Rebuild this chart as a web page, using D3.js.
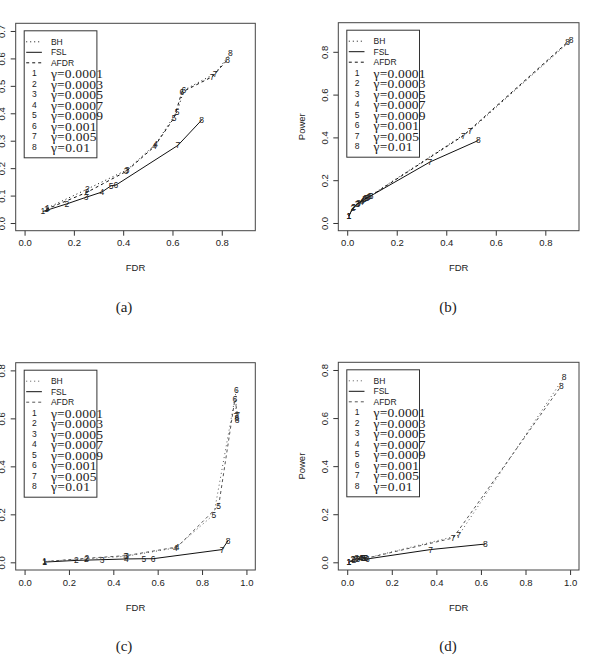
<!DOCTYPE html>
<html>
<head>
<meta charset="utf-8">
<script src="https://cdn.jsdelivr.net/npm/d3@7"></script>
<style>
  body { margin: 0; background: #fff; }
  text { fill: #222; }
</style>
</head>
<body>
<div id="draw-area"></div>
<script>
// 共用資料
const pointLabels = ['1', '2', '3', '4', '5', '6', '7', '8'];
const gammaLabels = ['0.0001', '0.0003', '0.0005', '0.0007', '0.0009', '0.001', '0.005', '0.01'];
const methodNames = ['BH', 'FSL', 'AFDR'];

// (a)
const fdrA_BH = [0.093, 0.255, 0.416, 0.532, 0.619, 0.646, 0.773, 0.835];
const powA_BH = [0.055, 0.124, 0.194, 0.288, 0.406, 0.484, 0.545, 0.618];
const fdrA_FSL = [0.074, 0.172, 0.250, 0.314, 0.351, 0.370, 0.622, 0.718];
const powA_FSL = [0.042, 0.070, 0.094, 0.113, 0.136, 0.138, 0.283, 0.375];
const fdrA_AFDR = [0.088, 0.253, 0.412, 0.527, 0.607, 0.638, 0.761, 0.824];
const powA_AFDR = [0.050, 0.112, 0.188, 0.279, 0.384, 0.477, 0.533, 0.596];

// (b)
const fdrB_BH = [0.007, 0.025, 0.043, 0.060, 0.075, 0.090, 0.496, 0.904];
const powB_BH = [0.034, 0.073, 0.090, 0.105, 0.115, 0.125, 0.432, 0.854];
const fdrB_FSL = [0.007, 0.023, 0.040, 0.057, 0.070, 0.085, 0.334, 0.530];
const powB_FSL = [0.034, 0.070, 0.088, 0.100, 0.110, 0.120, 0.285, 0.386];
const fdrB_AFDR = [0.007, 0.027, 0.045, 0.063, 0.080, 0.097, 0.469, 0.890];
const powB_AFDR = [0.034, 0.075, 0.092, 0.108, 0.118, 0.128, 0.408, 0.845];

// (c)
const fdrC_BH = [0.090, 0.278, 0.455, 0.680, 0.853, 0.955, 0.952, 0.957];
const powC_BH = [0.004, 0.014, 0.025, 0.060, 0.199, 0.720, 0.610, 0.600];
const fdrC_FSL = [0.090, 0.233, 0.349, 0.459, 0.538, 0.579, 0.890, 0.917];
const powC_FSL = [0.001, 0.008, 0.011, 0.014, 0.015, 0.015, 0.053, 0.090];
const fdrC_AFDR = [0.090, 0.281, 0.460, 0.688, 0.875, 0.948, 0.960, 0.958];
const powC_AFDR = [0.003, 0.017, 0.028, 0.064, 0.236, 0.680, 0.615, 0.595];

// (d)
const fdrD_BH = [0.007, 0.027, 0.042, 0.060, 0.075, 0.085, 0.500, 0.973];
const powD_BH = [0.001, 0.014, 0.016, 0.017, 0.018, 0.017, 0.112, 0.770];
const fdrD_FSL = [0.007, 0.030, 0.048, 0.063, 0.078, 0.090, 0.374, 0.620];
const powD_FSL = [0.000, 0.011, 0.014, 0.017, 0.017, 0.014, 0.053, 0.076];
const fdrD_AFDR = [0.007, 0.025, 0.040, 0.058, 0.073, 0.083, 0.475, 0.961];
const powD_AFDR = [0.001, 0.013, 0.015, 0.016, 0.017, 0.016, 0.101, 0.735];

const ticksA_x = [0, 0.2, 0.4, 0.6, 0.8];
const ticksA_y = [0, 0.1, 0.2, 0.3, 0.4, 0.5, 0.6, 0.7];
const ticksB_y = [0, 0.2, 0.4, 0.6, 0.8];
const ticksC_x = [0, 0.2, 0.4, 0.6, 0.8, 1.0];

const W = 589, H = 660;
const SANS = '"Liberation Sans", Arial, Helvetica, sans-serif';
const SERIF = '"Liberation Serif", "Times New Roman", serif';
const dashes = { BH: '1,3', FSL: null, AFDR: '3,3' };

const svg = d3.select('#draw-area').append('svg')
    .attr('width', W).attr('height', H);

function drawPanel(p) {
    const b = p.box;
    const padX = (p.xlim[1] - p.xlim[0]) * 0.04, padY = (p.ylim[1] - p.ylim[0]) * 0.04;
    const x = d3.scaleLinear().domain([p.xlim[0] - padX, p.xlim[1] + padX]).range([b.x0, b.x1]);
    const y = d3.scaleLinear().domain([p.ylim[0] - padY, p.ylim[1] + padY]).range([b.y1, b.y0]);
    const g = svg.append('g');

    //X軸
    g.append('g').attr('transform', `translate(0,${b.y1})`)
        .call(d3.axisBottom(x).tickValues(p.xticks).tickSize(5).tickPadding(4).tickFormat(d3.format('.1f')))
        .call(a => a.select('.domain').remove())
        .call(a => a.selectAll('line').attr('stroke', '#333'))
        .call(a => a.selectAll('text').attr('font-family', SANS).attr('font-size', 9.5).attr('fill', '#222'));

    //Y軸 (文字旋轉)
    const ya = g.append('g').attr('transform', `translate(${b.x0},0)`)
        .call(d3.axisLeft(y).tickValues(p.yticks).tickSize(5).tickFormat(d3.format('.1f')));
    ya.select('.domain').remove();
    ya.selectAll('line').attr('stroke', '#333');
    ya.selectAll('text').attr('font-family', SANS).attr('font-size', 9.5).attr('fill', '#222')
        .attr('x', 0).attr('dy', null)
        .attr('text-anchor', 'middle')
        .attr('transform', 'translate(-14,0) rotate(-90)')
        .attr('dominant-baseline', 'central');

    g.append('rect').attr('x', b.x0).attr('y', b.y0)
        .attr('width', b.x1 - b.x0).attr('height', b.y1 - b.y0)
        .attr('fill', 'none').attr('stroke', '#444').attr('stroke-width', 1);

    g.append('text').attr('font-family', SANS).attr('font-size', 9.5)
        .attr('x', (b.x0 + b.x1) / 2).attr('y', b.y1 + 37)
        .attr('text-anchor', 'middle').attr('dominant-baseline', 'central').text('FDR');
    g.append('text').attr('font-family', SANS).attr('font-size', 9.5)
        .attr('text-anchor', 'middle').attr('dominant-baseline', 'central')
        .attr('transform', `translate(${b.x0 - 36.6},${(b.y0 + b.y1) / 2}) rotate(-90)`)
        .text('Power');
    g.append('text').attr('font-family', SERIF).attr('font-size', 15)
        .attr('x', p.captionX).attr('y', b.y1 + 76)
        .attr('text-anchor', 'middle').attr('dominant-baseline', 'central').text(p.caption);

    //線與點標號
    const line = d3.line().x(d => x(d[0])).y(d => y(d[1]));
    methodNames.forEach(m => {
        const pts = p.data[m][0].map((v, i) => [v, p.data[m][1][i], pointLabels[i]]);
        g.append('path').attr('d', line(pts)).attr('fill', 'none')
            .attr('stroke', m === 'FSL' ? '#111' : p.dotColor).attr('stroke-width', 1)
            .attr('stroke-dasharray', dashes[m]);
        g.selectAll(null).data(pts).enter().append('text')
            .attr('font-family', SANS).attr('font-size', 8.5)
            .attr('x', d => x(d[0])).attr('y', d => y(d[1]))
            .attr('text-anchor', 'middle').attr('dominant-baseline', 'central')
            .text(d => d[2]);
    });

    //圖例
    const lx = b.x0 + 8.5, ly = b.y0 + 7.5;
    const lg = g.append('g').attr('transform', `translate(${lx},${ly})`);
    lg.append('rect').attr('width', 72.7).attr('height', 127)
        .attr('fill', '#fff').attr('stroke', '#333').attr('stroke-width', 1);
    methodNames.forEach((m, i) => {
        const yy = 11 + i * 10.5;
        lg.append('line').attr('x1', 2).attr('x2', 17.7).attr('y1', yy).attr('y2', yy)
            .attr('stroke', m === 'FSL' ? '#111' : p.dotColor)
            .attr('stroke-dasharray', dashes[m]);
        lg.append('text').attr('font-family', SANS).attr('font-size', 8.5)
            .attr('x', 26.7).attr('y', yy).attr('dominant-baseline', 'central').text(m);
    });
    gammaLabels.forEach((gm, i) => {
        const yy = 11 + (i + 3) * 10.5;
        lg.append('text').attr('font-family', SANS).attr('font-size', 8.5)
            .attr('x', 10.3).attr('y', yy).attr('text-anchor', 'middle')
            .attr('dominant-baseline', 'central').text(pointLabels[i]);
        lg.append('text').attr('font-family', SERIF).attr('font-size', 13.5)
            .attr('x', 26.7).attr('y', yy + 0.5).attr('dominant-baseline', 'central')
            .attr('textLength', 52 * (gm.length + 2) / 8).attr('lengthAdjust', 'spacing')
            .text('γ=' + gm);
    });
}

drawPanel({
    box: { x0: 15.7, x1: 255.3, y0: 23.3, y1: 230.7 }, xlim: [0, 0.9], ylim: [0, 0.7],
    xticks: ticksA_x, yticks: ticksA_y, caption: '(a)', captionX: 124, dotColor: '#111',
    data: { BH: [fdrA_BH, powA_BH], FSL: [fdrA_FSL, powA_FSL], AFDR: [fdrA_AFDR, powA_AFDR] }
});
drawPanel({
    box: { x0: 338.3, x1: 579, y0: 22.7, y1: 230.7 }, xlim: [0, 0.9], ylim: [0, 0.9],
    xticks: ticksA_x, yticks: ticksB_y, caption: '(b)', captionX: 448, dotColor: '#111',
    data: { BH: [fdrB_BH, powB_BH], FSL: [fdrB_FSL, powB_FSL], AFDR: [fdrB_AFDR, powB_AFDR] }
});
drawPanel({
    box: { x0: 15.7, x1: 255.3, y0: 362.7, y1: 570 }, xlim: [0, 1], ylim: [0, 0.8],
    xticks: ticksC_x, yticks: ticksB_y, caption: '(c)', captionX: 124, dotColor: '#555',
    data: { BH: [fdrC_BH, powC_BH], FSL: [fdrC_FSL, powC_FSL], AFDR: [fdrC_AFDR, powC_AFDR] }
});
drawPanel({
    box: { x0: 338.3, x1: 579, y0: 362.3, y1: 570 }, xlim: [0, 1], ylim: [0, 0.8],
    xticks: ticksC_x, yticks: ticksB_y, caption: '(d)', captionX: 448, dotColor: '#555',
    data: { BH: [fdrD_BH, powD_BH], FSL: [fdrD_FSL, powD_FSL], AFDR: [fdrD_AFDR, powD_AFDR] }
});
</script>
</body>
</html>
